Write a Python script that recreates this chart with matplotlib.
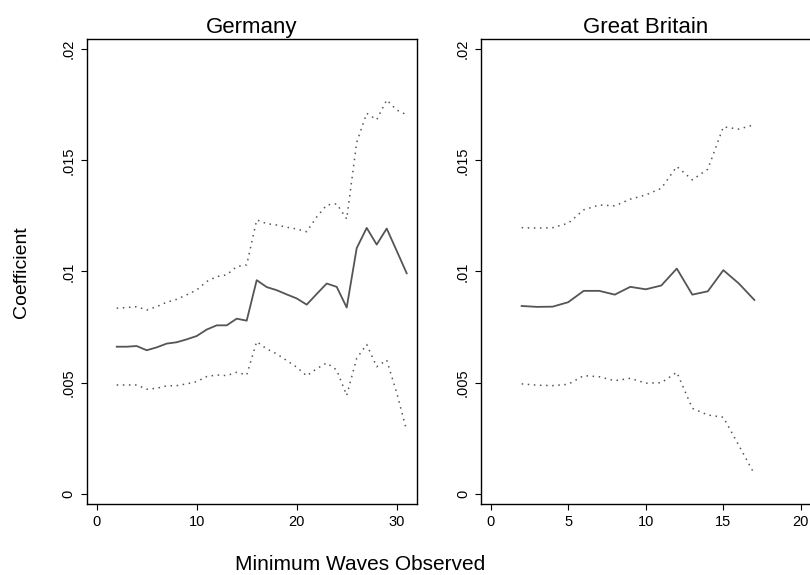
import matplotlib
matplotlib.use("Agg")
import matplotlib.pyplot as plt
import numpy as np

plt.rcParams['font.family'] = ['Liberation Sans', 'DejaVu Sans']

# ---- data ----
waves_de = list(range(2, 32))
coef_de = [0.00662, 0.00662, 0.00665, 0.00646, 0.00659, 0.00676, 0.00682, 0.00695,
           0.00710, 0.00739, 0.00758, 0.00758, 0.00788, 0.00779, 0.00961, 0.00930,
           0.00916, 0.00897, 0.00879, 0.00851, 0.00899, 0.00946, 0.00931, 0.00838,
           0.01105, 0.01196, 0.01121, 0.01193, 0.01093, 0.00992]
upper_de = [0.00835, 0.00838, 0.00842, 0.00827, 0.00842, 0.00862, 0.00875, 0.00895,
            0.00917, 0.00955, 0.00977, 0.00985, 0.01022, 0.01030, 0.01232, 0.01215,
            0.01209, 0.01199, 0.01191, 0.01179, 0.01245, 0.01299, 0.01304, 0.01236,
            0.01580, 0.01711, 0.01682, 0.01771, 0.01726, 0.01704]
lower_de = [0.00490, 0.00490, 0.00490, 0.00471, 0.00475, 0.00486, 0.00487, 0.00495,
            0.00505, 0.00528, 0.00535, 0.00532, 0.00547, 0.00535, 0.00685, 0.00652,
            0.00630, 0.00600, 0.00570, 0.00531, 0.00563, 0.00589, 0.00557, 0.00443,
            0.00610, 0.00672, 0.00572, 0.00602, 0.00455, 0.00284]

waves_gb = list(range(2, 18))
coef_gb = [0.00845, 0.00841, 0.00842, 0.00862, 0.00913, 0.00913, 0.00896, 0.00931,
           0.00920, 0.00937, 0.01013, 0.00896, 0.00911, 0.01006, 0.00946, 0.00872]
upper_gb = [0.01197, 0.01195, 0.01197, 0.01217, 0.01277, 0.01299, 0.01295, 0.01325,
            0.01344, 0.01374, 0.01472, 0.01412, 0.01460, 0.01650, 0.01640, 0.01660]
lower_gb = [0.00495, 0.00489, 0.00487, 0.00493, 0.00532, 0.00527, 0.00509, 0.00520,
            0.00498, 0.00500, 0.00547, 0.00385, 0.00355, 0.00345, 0.00218, 0.00090]

panels = ["Germany", "Great Britain"]
xticks_de = [0, 10, 20, 30]
xticks_gb = [0, 5, 10, 15, 20]
yticks = [0, 0.005, 0.01, 0.015, 0.02]
ytick_labels = ["0", ".005", ".01", ".015", ".02"]

# ---- figure ----
W, H = 810, 575
fig = plt.figure(figsize=(W / 100, H / 100), dpi=100)
fig.patch.set_facecolor('white')

ax_w = 330 / W
ax_b = 1 - 504 / H
ax_h = (504 - 39) / H
ax1 = fig.add_axes([86.7 / W, ax_b, ax_w, ax_h])
ax2 = fig.add_axes([481 / W, ax_b, ax_w, ax_h])

line_col = '#555555'
specs = [
    (ax1, waves_de, coef_de, upper_de, lower_de, xticks_de, (-1.0, 32.0)),
    (ax2, waves_gb, coef_gb, upper_gb, lower_gb, xticks_gb, (-0.62, 20.65)),
]
for (ax, x, c, u, l, xt, xl), title in zip(specs, panels):
    ax.plot(x, u, color=line_col, lw=1.1, linestyle=(0, (1, 3.0)))
    ax.plot(x, c, color=line_col, lw=1.3)
    ax.plot(x, l, color=line_col, lw=1.1, linestyle=(0, (1, 3.0)))
    ax.set_xlim(*xl)
    ax.set_ylim(-0.00045, 0.02045)
    ax.set_xticks(xt)
    ax.set_xticklabels([str(v) for v in xt])
    ax.set_yticks(yticks)
    ax.set_yticklabels(ytick_labels, rotation=90, va='center')
    ax.tick_params(axis='both', direction='out', length=4.5, width=0.8,
                   labelsize=10.5, pad=3.5, colors='black')
    for s in ax.spines.values():
        s.set_linewidth(1.0)
        s.set_color('black')
    ax.set_title(title, fontsize=16, pad=4)

fig.text(22 / W, 1 - 272 / H, "Coefficient", rotation=90, ha='center',
         va='center', fontsize=14)
fig.text(360 / W, 1 - 565 / H, "Minimum Waves Observed", ha='center',
         va='center', fontsize=15)

fig.savefig("out.png", dpi=100, facecolor='white')
